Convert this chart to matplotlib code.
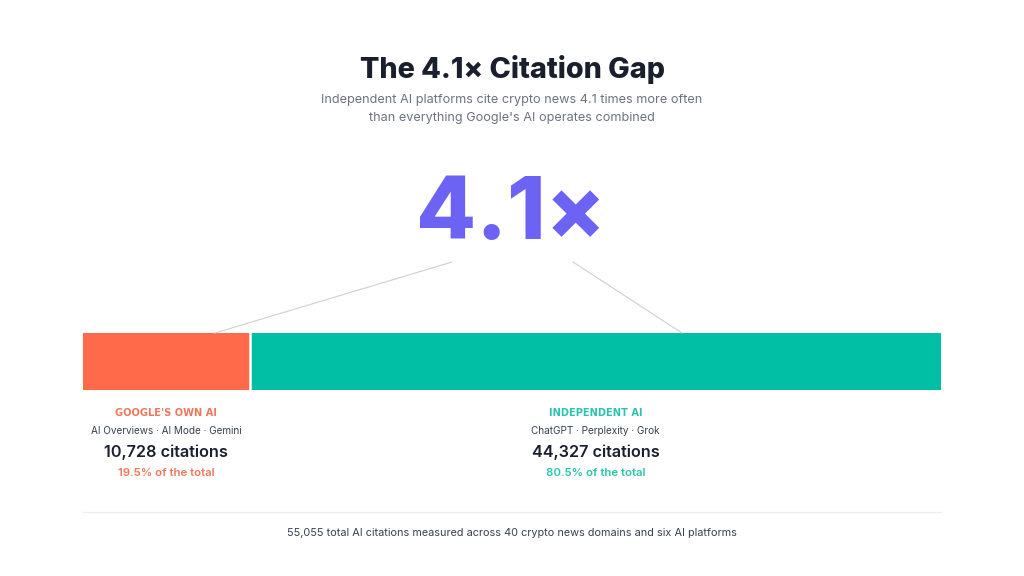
import matplotlib
matplotlib.use("Agg")
import matplotlib.pyplot as plt
from matplotlib.lines import Line2D

W, H = 1024, 576

groups = ["GOOGLE'S OWN AI", "INDEPENDENT AI"]
platforms = ["AI Overviews · AI Mode · Gemini", "ChatGPT · Perplexity · Grok"]
citations = [10728, 44327]
shares = [19.5, 80.5]
colors = ["#FF6B4A", "#00BFA5"]
label_colors = ["#F0775A", "#2CC4AE"]

title = "The 4.1× Citation Gap"
subtitle = ["Independent AI platforms cite crypto news 4.1 times more often",
            "than everything Google's AI operates combined"]
multiple = "4.1×"
footer = "55,055 total AI citations measured across 40 crypto news domains and six AI platforms"

dark = "#1A1F2E"
plt.rcParams["font.family"] = ["Inter", "DejaVu Sans"]

fig = plt.figure(figsize=(W / 100, H / 100), dpi=100, facecolor="white")


def px(x, y):
    return x / W, 1 - y / H


def txt(x, y, s, **kw):
    fig.text(*px(x, y), s, ha="center", va="center", **kw)


# bar axes sits exactly on the bar area
ax = fig.add_axes([83 / W, 1 - 390 / H, 858 / W, 57 / H])
left = 0
for c, col in zip(citations, colors):
    ax.barh(0, c, left=left, height=1, color=col, linewidth=0)
    left += c
ax.axvline(citations[0], color="white", lw=1.8)
ax.set_xlim(0, sum(citations))
ax.set_ylim(-0.5, 0.5)
ax.axis("off")

txt(512, 70, title, fontsize=20.7, fontweight="heavy", color=dark)
txt(512, 100.5, subtitle[0], fontsize=9.15, color="#6B7280")
txt(512, 117.5, subtitle[1], fontsize=9.15, color="#6B7280")
txt(511, 217, multiple, fontsize=63, fontweight="heavy", color="#6C63F5")

for xs in [((452, 215), (262, 333)), ((573, 682), (262, 333))]:
    fig.add_artist(Line2D([x / W for x in xs[0]], [1 - y / H for y in xs[1]],
                          color="#CFCFD4", lw=0.8))

centers = [166, 595.5]
for cx, g, p, c, s, lc in zip(centers, groups, platforms, citations, shares, label_colors):
    # wider face stands in for the letter spacing of these labels
    txt(cx, 412.5, g, fontsize=7.1, fontweight="bold", color=lc, family="DejaVu Sans")
    txt(cx, 430.5, p, fontsize=7.2, color="#374151")
    txt(cx, 452, f"{c:,} citations", fontsize=11.7, fontweight="semibold", color=dark)
    txt(cx, 472.5, f"{s}% of the total", fontsize=8.25, fontweight="semibold", color=lc)

fig.add_artist(Line2D([83 / W, 941 / W], [1 - 512 / H] * 2, color="#EEEEEE", lw=1))
txt(512, 532.5, footer, fontsize=7.85, color="#374151")

fig.savefig("out.png", dpi=100)
